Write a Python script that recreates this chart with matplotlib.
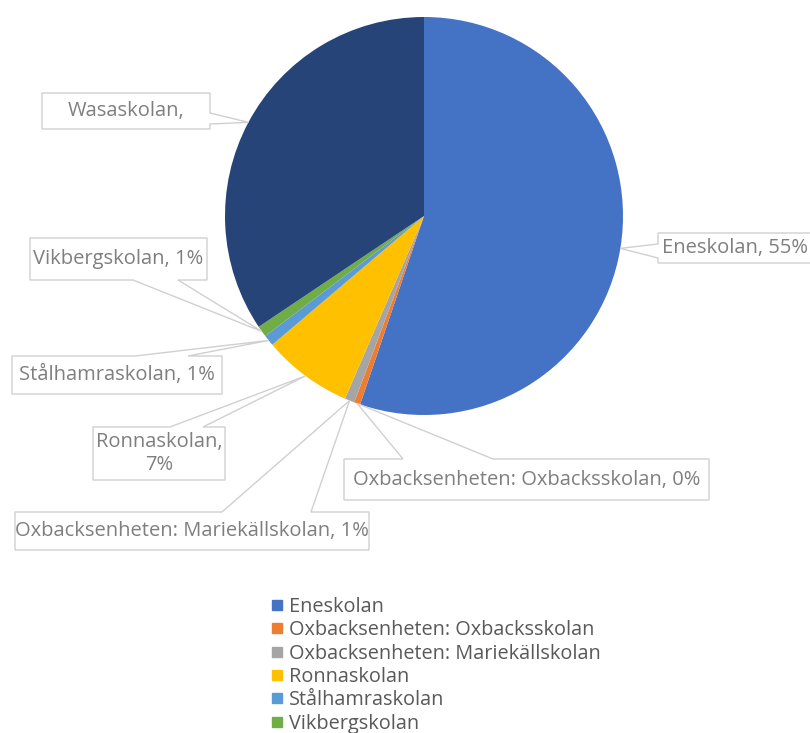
import matplotlib.pyplot as plt
from matplotlib.patches import Polygon
from matplotlib.lines import Line2D
import numpy as np

W, H = 810, 733

schools = ['Eneskolan', 'Oxbacksenheten: Oxbacksskolan', 'Oxbacksenheten: Mariekällskolan',
           'Ronnaskolan', 'Stålhamraskolan', 'Vikbergskolan', 'Wasaskolan']
shares = [55.2, 0.5, 0.8, 7.3, 0.9, 0.9, 34.4]
colors = ['#4472C4', '#ED7D31', '#A5A5A5', '#FFC000', '#5B9BD5', '#70AD47', '#264478']
label_texts = ['Eneskolan, 55%', 'Oxbacksenheten: Oxbacksskolan, 0%',
               'Oxbacksenheten: Mariekällskolan, 1%', 'Ronnaskolan,\n7%',
               'Stålhamraskolan, 1%', 'Vikbergskolan, 1%', 'Wasaskolan,']
# only the first six legend rows fit on the canvas
legend_rows = 6

# callout boxes in pixels from top-left: box, side, pointer base
callouts = [
    ((658, 233, 815, 263), 'left', (244, 258)),
    ((344, 459, 709, 500), 'top', (403, 493)),
    ((15, 512, 369, 550), 'top', (222, 311)),
    ((93, 427, 225, 480), 'top', (170, 203)),
    ((12, 356, 222, 394), 'top', (135, 188)),
    ((30, 238, 207, 280), 'bottom', (133, 178)),
    ((42, 93, 210, 129), 'right', (113, 124)),
]

plt.rcParams['font.family'] = ['Open Sans', 'DejaVu Sans']

fig = plt.figure(figsize=(W / 100, H / 100), dpi=100)
ax = fig.add_axes([0, 0, 1, 1])

cx, cy, r = 424, 216, 199
wedges, _ = ax.pie(shares, colors=colors, startangle=90, counterclock=False,
                   center=(cx, H - cy), radius=r, frame=True,
                   wedgeprops=dict(linewidth=0))
ax.set_xlim(0, W)
ax.set_ylim(0, H)
ax.axis('off')

line_c = '#D0D0D0'
for w, txt, (box, side, (b1, b2)) in zip(wedges, label_texts, callouts):
    mid = np.radians((w.theta1 + w.theta2) / 2)
    axp = cx + r * np.cos(mid)
    ayp = cy - r * np.sin(mid)
    x0, y0, x1, y1 = box
    a = (axp, ayp)
    if side == 'top':
        pts = [(x0, y0), (b1, y0), a, (b2, y0), (x1, y0), (x1, y1), (x0, y1)]
    elif side == 'right':
        pts = [(x0, y0), (x1, y0), (x1, b1), a, (x1, b2), (x1, y1), (x0, y1)]
    elif side == 'bottom':
        pts = [(x0, y0), (x1, y0), (x1, y1), (b2, y1), a, (b1, y1), (x0, y1)]
    else:
        pts = [(x0, y0), (x1, y0), (x1, y1), (x0, y1), (x0, b2), a, (x0, b1)]
    pts = [(px, H - py) for px, py in pts]
    ax.add_patch(Polygon(pts, closed=True, facecolor='white', edgecolor=line_c,
                         linewidth=1.0, zorder=3))
    tx = (x0 + min(x1, W)) / 2 if side != 'left' else x0 + 4
    ha = 'center' if side != 'left' else 'left'
    ax.text(tx, H - (y0 + y1) / 2, txt, ha=ha, va='center', fontsize=14.5,
            color='#7F7F7F', zorder=4, linespacing=1.2)

handles = [Line2D([0], [0], marker='s', linestyle='none', markersize=7.5,
                  markerfacecolor=c, markeredgecolor=c) for c in colors]
fig.legend(handles[:legend_rows], schools[:legend_rows], loc='upper left',
           bbox_to_anchor=(257 / W, 1 - 589 / H),
           frameon=False, fontsize=14.3, labelcolor='#595959', handletextpad=0.0,
           labelspacing=0.17, borderaxespad=0, handlelength=1.2)

plt.savefig('out.png', dpi=100)
